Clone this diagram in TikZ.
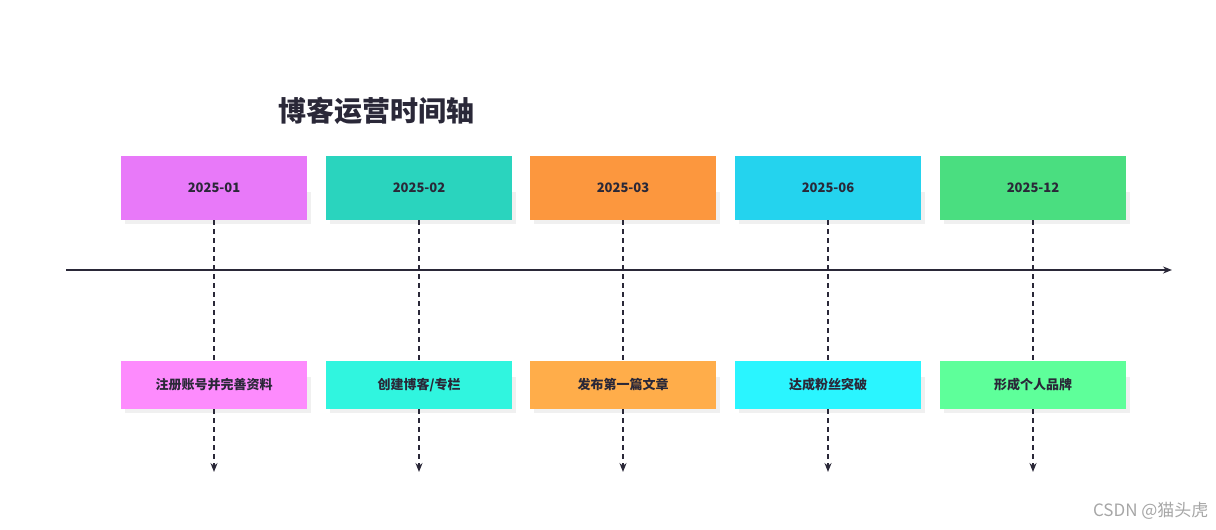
\documentclass[tikz,border=0pt]{standalone}
\usepackage{fontspec}
\setmainfont{Noto Sans CJK SC}
\usetikzlibrary{arrows.meta}
\definecolor{ink}{HTML}{2A2838}
\begin{document}
\begin{tikzpicture}[x=1pt,y=-1pt,
  datebox/.style={minimum width=186pt,minimum height=64pt,inner sep=0pt,font=\fontsize{13}{15}\selectfont\bfseries,text=ink},
  evbox/.style={minimum width=186pt,minimum height=48pt,inner sep=0pt,font=\fontsize{13}{15}\selectfont\bfseries,text=ink},
  conn/.style={draw=ink,line width=1.4pt,dash pattern=on 5pt off 4pt},
  shadowbox/.style={fill=black!6}]
\useasboundingbox (0,0) rectangle (1216,530);
\node[font=\fontsize{28}{32}\selectfont\bfseries,text=ink] (title) at (376,111) {博客运营时间轴};
\coordinate (ls) at (66,270);
\coordinate (le) at (1172,270);
\draw[ink,line width=1.6pt,-{Stealth[length=9pt,width=7pt]}] (ls) -- (le);
\foreach \i/\x/\d/\e/\ca/\cb in {1/214/2025-01/{注册账号并完善资料}/E879F9/FD8BFD,
  2/419/2025-02/{创建博客/专栏}/2AD4BE/30F5DF,
  3/623/2025-03/{发布第一篇文章}/FC973E/FFAD4A,
  4/828/2025-06/{达成粉丝突破}/24D3EE/2AF5FF,
  5/1033/2025-12/{形成个人品牌}/4ADE80/5EFF9A}{
  \definecolor{ca\i}{HTML}{\ca}\definecolor{cb\i}{HTML}{\cb}
  \fill[shadowbox] (\x-89,192) rectangle (\x+97,224);
  \fill[shadowbox] (\x-89,377) rectangle (\x+97,413);
  \node[datebox,fill=ca\i] (d\i) at (\x,188) {\d};
  \node[evbox,fill=cb\i] (e\i) at (\x,385) {\e};
  \coordinate (t\i) at (\x,472);
  \draw[conn] (d\i.south) -- (e\i.north);
  \draw[conn,-{Stealth[length=9pt,width=7pt]}] (e\i.south) -- (t\i);
}
\node[font=\fontsize{17}{20}\selectfont,text=black!35,anchor=east] (wm) at (1212,511) {CSDN @猫头虎};
\end{tikzpicture}
\end{document}
